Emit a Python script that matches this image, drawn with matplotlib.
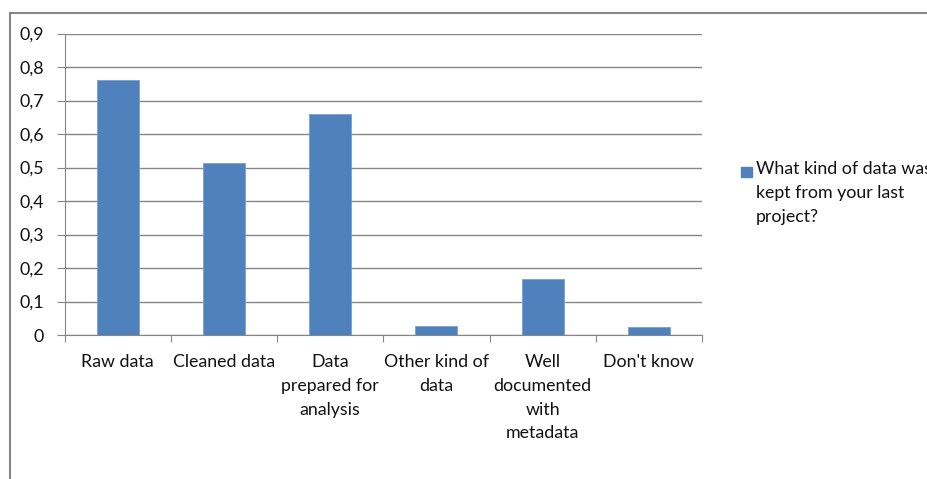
import numpy as np
import matplotlib.pyplot as plt
from matplotlib.patches import Rectangle
from matplotlib.ticker import FuncFormatter, FixedLocator

plt.rcParams['font.family'] = ['Lato', 'DejaVu Sans']

CATEGORIES = ['Raw data', 'Cleaned data', 'Data\nprepared for\nanalysis',
              'Other kind of\ndata', 'Well\ndocumented\nwith\nmetadata', "Don't know"]
VALUES = [0.761, 0.513, 0.660, 0.027, 0.167, 0.024]
SERIES = 'What kind of data was\nkept from your last\nproject?'
YTICKS = [0, 0.1, 0.2, 0.3, 0.4, 0.5, 0.6, 0.7, 0.8, 0.9]

W, H = 927, 479
BLUE = '#4F81BD'
GRAY = '#868686'
TEXT = '#111111'
FS = 12.8

fig = plt.figure(figsize=(W / 100, H / 100), dpi=100)

# chart frame, runs off the right and bottom edges
fig.patches.append(Rectangle((10 / W, -0.1), 1.2, 1 - 13 / H + 0.1,
                             transform=fig.transFigure, fill=False,
                             edgecolor=GRAY, linewidth=1.5))

ax = fig.add_axes([64.5 / W, 1 - 335 / H, (702 - 64.5) / W, (335 - 33.5) / H])
x = np.arange(len(CATEGORIES))
ax.bar(x, VALUES, width=0.395, color=BLUE, edgecolor='#7aa0d0', linewidth=0.6,
       zorder=3)

ax.set_xlim(-0.5, len(CATEGORIES) - 0.5)
ax.set_ylim(0, 0.9)
ax.set_yticks(YTICKS)
ax.yaxis.set_major_formatter(FuncFormatter(lambda v, p: ('%g' % round(v, 1)).replace('.', ',')))
ax.grid(axis='y', color=GRAY, linewidth=1, zorder=0)

# boundary ticks between categories, labels at the centres
ax.xaxis.set_major_locator(FixedLocator(np.arange(-0.5, len(CATEGORIES), 1.0)))
ax.xaxis.set_major_formatter(FuncFormatter(lambda v, p: ''))
ax.set_xticks(x, minor=True)
ax.set_xticklabels(CATEGORIES, minor=True, fontsize=FS, color=TEXT,
                   linespacing=1.58, va='top')
ax.tick_params(axis='x', which='minor', length=0, pad=14)
ax.tick_params(axis='x', which='major', length=5, color=GRAY, direction='out')
ax.tick_params(axis='y', length=6, color=GRAY, labelsize=FS, labelcolor=TEXT, pad=9)

for s in ['top', 'right']:
    ax.spines[s].set_visible(False)
for s in ['left', 'bottom']:
    ax.spines[s].set_color(GRAY)

# legend
fig.patches.append(Rectangle((741 / W, 1 - 177 / H), 11 / W, 10 / H,
                             transform=fig.transFigure, color=BLUE))
fig.text(756 / W, 1 - 161 / H, SERIES, fontsize=FS, color=TEXT, va='top',
         ha='left', linespacing=1.6)

fig.savefig('out.png', dpi=100)
